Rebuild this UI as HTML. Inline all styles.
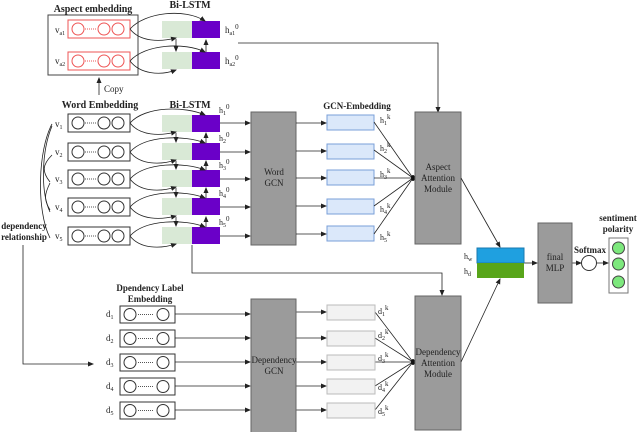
<!DOCTYPE html>
<html><head><meta charset="utf-8"><style>
html,body{margin:0;padding:0;background:#fff}
svg{display:block}
text{font-family:"Liberation Serif",serif;fill:#222}
.b{font-weight:bold}
</style></head><body>
<svg width="640" height="432" viewBox="0 0 640 432" xmlns="http://www.w3.org/2000/svg">
<defs>
<marker id="a" markerWidth="6" markerHeight="6" refX="5" refY="3" orient="auto" markerUnits="userSpaceOnUse"><path d="M0,0.5 L6,3 L0,5.5z" fill="#222"/></marker>
<g id="emb"><rect x="0" y="0" width="62" height="18" fill="#fff" stroke="#333"/><circle cx="10" cy="9" r="6" fill="none" stroke="#333"/><line x1="17" y1="9" x2="29" y2="9" stroke="#555" stroke-dasharray="1,1"/><circle cx="36" cy="9" r="6" fill="none" stroke="#333"/><circle cx="50" cy="9" r="6" fill="none" stroke="#333"/></g>
<g id="embr"><rect x="0" y="0" width="62" height="18" fill="#fff" stroke="#e55"/><circle cx="10" cy="9" r="6" fill="none" stroke="#e55"/><line x1="17" y1="9" x2="29" y2="9" stroke="#e55" stroke-dasharray="1,1"/><circle cx="36" cy="9" r="6" fill="none" stroke="#e55"/><circle cx="50" cy="9" r="6" fill="none" stroke="#e55"/></g>
<g id="demb"><rect x="0" y="0" width="55" height="17" fill="#fff" stroke="#333"/><circle cx="10" cy="8.5" r="6" fill="none" stroke="#333"/><line x1="18" y1="8.5" x2="34" y2="8.5" stroke="#555" stroke-dasharray="1,1"/><circle cx="43" cy="8.5" r="6" fill="none" stroke="#333"/></g>
<g id="lstm"><rect x="0" y="0" width="30" height="17" fill="#d9e9d6"/><rect x="30" y="0" width="28" height="17" fill="#6a00c8"/></g>
<g id="ge"><rect x="0" y="0" width="47" height="15" fill="#dbe8fa" stroke="#7a9fd8"/></g>
<g id="de"><rect x="0" y="0" width="48" height="15" fill="#f2f2f2" stroke="#bbb"/></g>
</defs>

<!-- Aspect section -->
<text x="93" y="12" font-size="10" class="b" text-anchor="middle">Aspect embedding</text>
<text x="190" y="8" font-size="10" class="b" text-anchor="middle">Bi-LSTM</text>
<rect x="48" y="15" width="90" height="60" fill="#fff" stroke="#444"/>
<use href="#embr" x="68" y="20"/><use href="#embr" x="68" y="52"/>
<text x="55" y="33" font-size="9">v<tspan font-size="6" dy="2">a1</tspan></text>
<text x="55" y="64" font-size="9">v<tspan font-size="6" dy="2">a2</tspan></text>
<use href="#lstm" x="162" y="21"/><use href="#lstm" x="162" y="52"/>
<text x="225" y="33" font-size="9">h<tspan font-size="6" dy="2">a1</tspan><tspan font-size="7" dy="-6">0</tspan></text>
<text x="225" y="64" font-size="9">h<tspan font-size="6" dy="2">a2</tspan><tspan font-size="7" dy="-6">0</tspan></text>
<g fill="none" stroke="#222" stroke-width="0.8">
<path d="M130,29 C145,12 185,8 205,21" marker-end="url(#a)"/>
<path d="M130,29 C140,42 160,42 176,38" marker-end="url(#a)"/>
<path d="M130,61 C145,44 185,42 205,52" marker-end="url(#a)"/>
<path d="M130,61 C140,74 160,76 176,70" marker-end="url(#a)"/>
<line x1="176" y1="39" x2="176" y2="51" marker-end="url(#a)"/>
<line x1="206" y1="52" x2="206" y2="40" marker-end="url(#a)"/>
<line x1="99" y1="95" x2="99" y2="78" marker-end="url(#a)"/>
<path d="M238,43 L438,43 L438,112" marker-end="url(#a)"/>
</g>
<text x="104" y="92" font-size="9">Copy</text>

<!-- Word section -->
<text x="100" y="108" font-size="10" class="b" text-anchor="middle">Word Embedding</text>
<text x="190" y="108" font-size="10" class="b" text-anchor="middle">Bi-LSTM</text>
<use href="#emb" x="68" y="114"/><use href="#emb" x="68" y="143"/><use href="#emb" x="68" y="170"/><use href="#emb" x="68" y="198"/><use href="#emb" x="68" y="227"/>
<text x="55" y="127" font-size="9">v<tspan font-size="6" dy="2">1</tspan></text>
<text x="55" y="155" font-size="9">v<tspan font-size="6" dy="2">2</tspan></text>
<text x="55" y="182" font-size="9">v<tspan font-size="6" dy="2">3</tspan></text>
<text x="55" y="210" font-size="9">v<tspan font-size="6" dy="2">4</tspan></text>
<text x="55" y="239" font-size="9">v<tspan font-size="6" dy="2">5</tspan></text>
<use href="#lstm" x="162" y="115"/><use href="#lstm" x="162" y="143"/><use href="#lstm" x="162" y="170"/><use href="#lstm" x="162" y="198"/><use href="#lstm" x="162" y="227"/>
<g font-size="8">
<text x="219" y="113">h<tspan font-size="6" dy="2">1</tspan><tspan font-size="7" dy="-6">0</tspan></text>
<text x="219" y="141">h<tspan font-size="6" dy="2">2</tspan><tspan font-size="7" dy="-6">0</tspan></text>
<text x="219" y="168">h<tspan font-size="6" dy="2">3</tspan><tspan font-size="7" dy="-6">0</tspan></text>
<text x="219" y="196">h<tspan font-size="6" dy="2">4</tspan><tspan font-size="7" dy="-6">0</tspan></text>
<text x="219" y="225">h<tspan font-size="6" dy="2">5</tspan><tspan font-size="7" dy="-6">0</tspan></text>
</g>
<g fill="none" stroke="#222" stroke-width="0.8">
<path d="M130,123 C145,106 185,106 205,115" marker-end="url(#a)"/><path d="M130,123 C140,136 160,136 176,132" marker-end="url(#a)"/>
<path d="M130,152 C145,135 185,135 205,143" marker-end="url(#a)"/><path d="M130,152 C140,165 160,165 176,160" marker-end="url(#a)"/>
<path d="M130,179 C145,162 185,162 205,170" marker-end="url(#a)"/><path d="M130,179 C140,192 160,192 176,187" marker-end="url(#a)"/>
<path d="M130,207 C145,190 185,190 205,198" marker-end="url(#a)"/><path d="M130,207 C140,220 160,220 176,216" marker-end="url(#a)"/>
<path d="M130,236 C145,219 185,219 205,227" marker-end="url(#a)"/><path d="M130,236 C140,249 160,249 176,244" marker-end="url(#a)"/>
<line x1="176" y1="133" x2="176" y2="142" marker-end="url(#a)"/>
<line x1="176" y1="161" x2="176" y2="169" marker-end="url(#a)"/>
<line x1="176" y1="188" x2="176" y2="197" marker-end="url(#a)"/>
<line x1="176" y1="217" x2="176" y2="226" marker-end="url(#a)"/>
<line x1="206" y1="143" x2="206" y2="133" marker-end="url(#a)"/>
<line x1="206" y1="170" x2="206" y2="161" marker-end="url(#a)"/>
<line x1="206" y1="198" x2="206" y2="188" marker-end="url(#a)"/>
<line x1="206" y1="227" x2="206" y2="217" marker-end="url(#a)"/>
<line x1="220" y1="123" x2="250" y2="123" marker-end="url(#a)"/>
<line x1="220" y1="152" x2="250" y2="152" marker-end="url(#a)"/>
<line x1="220" y1="179" x2="250" y2="179" marker-end="url(#a)"/>
<line x1="220" y1="207" x2="250" y2="207" marker-end="url(#a)"/>
<line x1="220" y1="236" x2="250" y2="236" marker-end="url(#a)"/>
<!-- dependency arcs -->
<path d="M52,124 C38,150 36,210 50,238"/>
<path d="M52,126 C42,150 40,190 50,212"/>
<path d="M52,155 C42,165 42,172 50,182"/>
<path d="M50,183 C44,195 44,200 50,210"/>
<path d="M23,245 L23,364 L93,364" marker-end="url(#a)"/>
<path d="M192,245 L192,273 L442,273 L442,295" marker-end="url(#a)"/>
</g>
<text x="24" y="229" font-size="9" class="b" text-anchor="middle">dependency</text>
<text x="24" y="240" font-size="9" class="b" text-anchor="middle">relationship</text>

<rect x="251" y="112" width="45" height="133" fill="#9b9b9b" stroke="#666"/>
<text x="274" y="175" font-size="9" text-anchor="middle">Word</text>
<text x="274" y="186" font-size="9" text-anchor="middle">GCN</text>

<text x="357" y="109" font-size="9" class="b" text-anchor="middle">GCN-Embedding</text>
<use href="#ge" x="327" y="115"/><use href="#ge" x="327" y="144"/><use href="#ge" x="327" y="170"/><use href="#ge" x="327" y="199"/><use href="#ge" x="327" y="226"/>
<g font-size="8">
<text x="380" y="123">h<tspan font-size="6" dy="2">1</tspan><tspan font-size="7" dy="-6">k</tspan></text>
<text x="380" y="151">h<tspan font-size="6" dy="2">2</tspan><tspan font-size="7" dy="-6">k</tspan></text>
<text x="380" y="177">h<tspan font-size="6" dy="2">3</tspan><tspan font-size="7" dy="-6">k</tspan></text>
<text x="380" y="212">h<tspan font-size="6" dy="2">4</tspan><tspan font-size="7" dy="-6">k</tspan></text>
<text x="380" y="240">h<tspan font-size="6" dy="2">5</tspan><tspan font-size="7" dy="-6">k</tspan></text>
</g>
<g fill="none" stroke="#222" stroke-width="0.8">
<line x1="296" y1="123" x2="326" y2="123" marker-end="url(#a)"/>
<line x1="296" y1="151" x2="326" y2="151" marker-end="url(#a)"/>
<line x1="296" y1="178" x2="326" y2="178" marker-end="url(#a)"/>
<line x1="296" y1="206" x2="326" y2="206" marker-end="url(#a)"/>
<line x1="296" y1="234" x2="326" y2="234" marker-end="url(#a)"/>
<path d="M374,122 L413,178 M374,150 L413,178 M374,178 L413,178 M374,206 L413,178 M374,234 L413,178"/>
</g>
<ellipse cx="413" cy="178" rx="2" ry="3" fill="#111"/>
<rect x="415" y="112" width="46" height="132" fill="#9b9b9b" stroke="#666"/>
<text x="438" y="170" font-size="9" text-anchor="middle">Aspect</text>
<text x="438" y="181" font-size="9" text-anchor="middle">Attention</text>
<text x="438" y="192" font-size="9" text-anchor="middle">Module</text>

<!-- Dependency section -->
<text x="150" y="291" font-size="9" class="b" text-anchor="middle">Dpendency Label</text>
<text x="150" y="302" font-size="9" class="b" text-anchor="middle">Embedding</text>
<use href="#demb" x="120" y="306"/><use href="#demb" x="120" y="330"/><use href="#demb" x="120" y="354"/><use href="#demb" x="120" y="378"/><use href="#demb" x="120" y="402"/>
<g font-size="9">
<text x="106" y="317">d<tspan font-size="6" dy="2">1</tspan></text>
<text x="106" y="341">d<tspan font-size="6" dy="2">2</tspan></text>
<text x="106" y="365">d<tspan font-size="6" dy="2">3</tspan></text>
<text x="106" y="389">d<tspan font-size="6" dy="2">4</tspan></text>
<text x="106" y="413">d<tspan font-size="6" dy="2">5</tspan></text>
</g>
<g fill="none" stroke="#222" stroke-width="0.8">
<line x1="175" y1="314" x2="250" y2="314" marker-end="url(#a)"/>
<line x1="175" y1="338" x2="250" y2="338" marker-end="url(#a)"/>
<line x1="175" y1="362" x2="250" y2="362" marker-end="url(#a)"/>
<line x1="175" y1="386" x2="250" y2="386" marker-end="url(#a)"/>
<line x1="175" y1="410" x2="250" y2="410" marker-end="url(#a)"/>
<line x1="296" y1="312" x2="326" y2="312" marker-end="url(#a)"/>
<line x1="296" y1="338" x2="326" y2="338" marker-end="url(#a)"/>
<line x1="296" y1="362" x2="326" y2="362" marker-end="url(#a)"/>
<line x1="296" y1="386" x2="326" y2="386" marker-end="url(#a)"/>
<line x1="296" y1="410" x2="326" y2="410" marker-end="url(#a)"/>
<path d="M375,312 L413,362 M375,338 L413,362 M375,362 L413,362 M375,386 L413,362 M375,410 L413,362"/>
</g>
<rect x="251" y="299" width="45" height="134" fill="#9b9b9b" stroke="#666"/>
<text x="274" y="363" font-size="9" text-anchor="middle">Dependency</text>
<text x="274" y="374" font-size="9" text-anchor="middle">GCN</text>
<use href="#de" x="327" y="305"/><use href="#de" x="327" y="331"/><use href="#de" x="327" y="355"/><use href="#de" x="327" y="379"/><use href="#de" x="327" y="403"/>
<g font-size="8">
<text x="378" y="314">d<tspan font-size="6" dy="2">1</tspan><tspan font-size="7" dy="-6">k</tspan></text>
<text x="378" y="338">d<tspan font-size="6" dy="2">2</tspan><tspan font-size="7" dy="-6">k</tspan></text>
<text x="378" y="361">d<tspan font-size="6" dy="2">3</tspan><tspan font-size="7" dy="-6">k</tspan></text>
<text x="378" y="390">d<tspan font-size="6" dy="2">4</tspan><tspan font-size="7" dy="-6">k</tspan></text>
<text x="378" y="414">d<tspan font-size="6" dy="2">5</tspan><tspan font-size="7" dy="-6">k</tspan></text>
</g>
<ellipse cx="413" cy="362" rx="2" ry="3" fill="#111"/>
<rect x="415" y="296" width="46" height="134" fill="#9b9b9b" stroke="#666"/>
<text x="438" y="355" font-size="9" text-anchor="middle">Dependency</text>
<text x="438" y="366" font-size="9" text-anchor="middle">Attention</text>
<text x="438" y="377" font-size="9" text-anchor="middle">Module</text>

<!-- Fusion -->
<g fill="none" stroke="#222" stroke-width="0.8">
<line x1="461" y1="178" x2="500" y2="247" marker-end="url(#a)"/>
<line x1="461" y1="362" x2="500" y2="279" marker-end="url(#a)"/>
<line x1="524" y1="263" x2="537" y2="263" marker-end="url(#a)"/>
<line x1="572" y1="263" x2="581" y2="263" marker-end="url(#a)"/>
<line x1="596" y1="263" x2="608" y2="263" marker-end="url(#a)"/>
</g>
<rect x="477" y="248" width="47" height="15" fill="#1fa0e0" stroke="#1a7ab0"/>
<rect x="477" y="263" width="47" height="15" fill="#58a51a"/>
<text x="464" y="259" font-size="8">h<tspan font-size="6" dy="2">w</tspan></text>
<text x="464" y="274" font-size="8">h<tspan font-size="6" dy="2">d</tspan></text>
<rect x="538" y="223" width="34" height="80" fill="#9b9b9b" stroke="#666"/>
<text x="555" y="260" font-size="9" text-anchor="middle">final</text>
<text x="555" y="271" font-size="9" text-anchor="middle">MLP</text>
<circle cx="589" cy="263" r="7.5" fill="#fff" stroke="#333"/>
<text x="590" y="253" font-size="9" class="b" text-anchor="middle">Softmax</text>
<text x="618" y="221" font-size="9" class="b" text-anchor="middle">sentiment</text>
<text x="618" y="232" font-size="9" class="b" text-anchor="middle">polarity</text>
<rect x="609" y="238" width="19" height="55" fill="#fff" stroke="#777"/>
<circle cx="618.5" cy="248" r="6" fill="#7de87d" stroke="#444"/>
<circle cx="618.5" cy="264" r="6" fill="#7de87d" stroke="#444"/>
<circle cx="618.5" cy="282" r="6" fill="#7de87d" stroke="#444"/>
</svg>
</body></html>
